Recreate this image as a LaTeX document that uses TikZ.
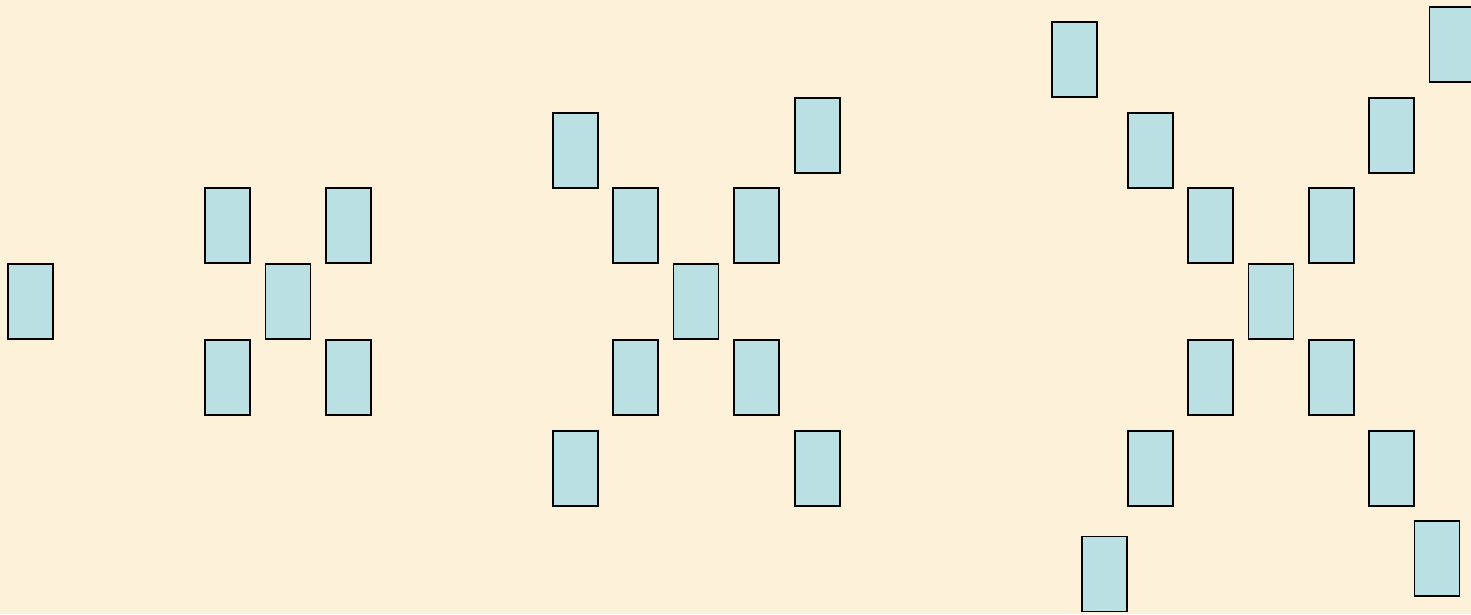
\documentclass[tikz,border=0pt]{standalone}
\definecolor{bgcream}{HTML}{FDF1DA}
\definecolor{cardblue}{HTML}{BBE0E3}
\tikzset{card/.style={draw=black, fill=cardblue, line width=1.9pt, minimum width=45pt, minimum height=75pt, inner sep=0pt, anchor=north west}}
\begin{document}
\begin{tikzpicture}[x=1pt,y=-1pt]
\useasboundingbox (0,0) rectangle (1471,614);
\clip (0,0) rectangle (1471,614);
\fill[bgcream] (0,0) rectangle (1471,614);
% group 1
\node[card] (a1) at (7,263) {};
\node[card] (a2) at (204,187) {};
\node[card] (a3) at (325,187) {};
\node[card] (a4) at (264.5,263) {};
\node[card] (a5) at (204,339) {};
\node[card] (a6) at (325,339) {};
% group 2
\node[card] (b1) at (552,112) {};
\node[card] (b2) at (794,97) {};
\node[card] (b3) at (612,187) {};
\node[card] (b4) at (733,187) {};
\node[card] (b5) at (672.5,263) {};
\node[card] (b6) at (612,339) {};
\node[card] (b7) at (733,339) {};
\node[card] (b8) at (552,430) {};
\node[card] (b9) at (794,430) {};
% group 3
\node[card] (c1) at (1051,21) {};
\node[card] (c2) at (1428.5,6) {};
\node[card] (c3) at (1127,112) {};
\node[card] (c4) at (1368,97) {};
\node[card] (c5) at (1187,187) {};
\node[card] (c6) at (1308,187) {};
\node[card] (c7) at (1247.5,263) {};
\node[card] (c8) at (1187,339) {};
\node[card] (c9) at (1308,339) {};
\node[card] (c10) at (1127,430) {};
\node[card] (c11) at (1368,430) {};
\node[card] (c12) at (1081,535.5) {};
\node[card] (c13) at (1413.5,520) {};
\end{tikzpicture}
\end{document}
